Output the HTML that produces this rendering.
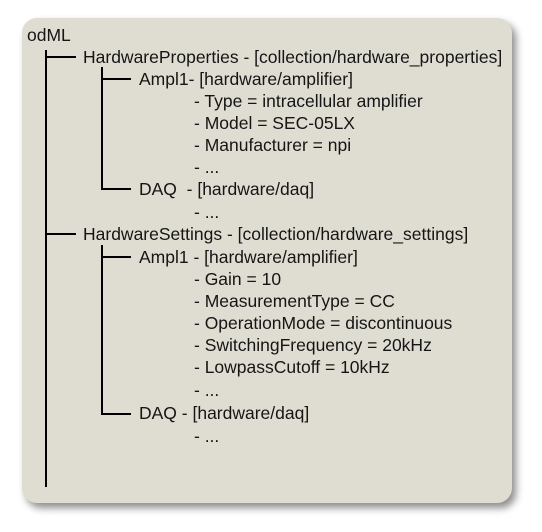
<!DOCTYPE html>
<html><head><style>
body{margin:0;width:542px;height:532px;background:#fff;position:relative;overflow:hidden;font-family:"Liberation Sans",sans-serif;}
.box{position:absolute;left:22px;top:18px;width:490px;height:485px;background:#dfddd2;border-radius:15px;box-shadow:4px 5px 8px rgba(0,0,0,0.45);}
.t{position:absolute;font-size:17.5px;color:#151515;line-height:20px;white-space:nowrap;transform:translateY(-10px);}
.l{position:absolute;background:#000;}
</style></head><body>
<div class="box"></div>
<div class="l" style="left:45px;top:50px;width:2px;height:437px"></div>
<div class="l" style="left:45px;top:56px;width:31px;height:2px"></div>
<div class="l" style="left:45px;top:233px;width:31px;height:2px"></div>
<div class="l" style="left:101px;top:67px;width:2px;height:123px"></div>
<div class="l" style="left:101px;top:78px;width:30px;height:2px"></div>
<div class="l" style="left:101px;top:188px;width:30px;height:2px"></div>
<div class="l" style="left:101px;top:245px;width:2px;height:170px"></div>
<div class="l" style="left:101px;top:256px;width:30px;height:2px"></div>
<div class="l" style="left:101px;top:413px;width:30px;height:2px"></div>

<div class="t" style="left:27px;top:35px">odML</div>
<div class="t" style="left:83px;top:57px">HardwareProperties - [collection/hardware_properties]</div>
<div class="t" style="left:139px;top:79px">Ampl1- [hardware/amplifier]</div>
<div class="t" style="left:194px;top:101px">- Type = intracellular amplifier</div>
<div class="t" style="left:194px;top:123px">- Model = SEC-05LX</div>
<div class="t" style="left:194px;top:145px">- Manufacturer = npi</div>
<div class="t" style="left:194px;top:167px">- ...</div>
<div class="t" style="left:139px;top:189px">DAQ&nbsp; - [hardware/daq]</div>
<div class="t" style="left:194px;top:212px">- ...</div>
<div class="t" style="left:83px;top:234px">HardwareSettings - [collection/hardware_settings]</div>
<div class="t" style="left:139px;top:257px">Ampl1 - [hardware/amplifier]</div>
<div class="t" style="left:194px;top:279px">- Gain = 10</div>
<div class="t" style="left:194px;top:301px">- MeasurementType = CC</div>
<div class="t" style="left:194px;top:323px">- OperationMode = discontinuous</div>
<div class="t" style="left:194px;top:345px">- SwitchingFrequency = 20kHz</div>
<div class="t" style="left:194px;top:367px">- LowpassCutoff = 10kHz</div>
<div class="t" style="left:194px;top:390px">- ...</div>
<div class="t" style="left:139px;top:413px">DAQ - [hardware/daq]</div>
<div class="t" style="left:194px;top:436px">- ...</div>
</body></html>
